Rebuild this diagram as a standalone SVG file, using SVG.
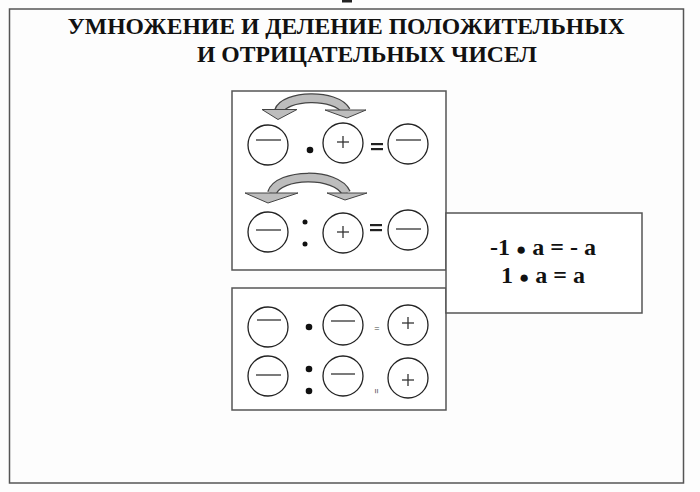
<svg xmlns="http://www.w3.org/2000/svg" width="700" height="492" viewBox="0 0 700 492">
<style>
.frame{fill:none;stroke:#555;stroke-width:1.5}
.box{fill:#fff;stroke:#555;stroke-width:1.5}
.c{fill:#fff;stroke:#222;stroke-width:1.3}
.sg{stroke:#333;stroke-width:1.3;fill:none}
.title{font-family:"Liberation Serif","DejaVu Serif",serif;font-weight:bold;font-size:24px;fill:#111}
.eq{font-family:"Liberation Serif","DejaVu Serif",serif;font-weight:bold;font-size:24px;fill:#111}
.dot{fill:#111}
.arO{fill:none;stroke:#444;stroke-width:10;stroke-linecap:butt}
.arI{fill:none;stroke:#bdbdbd;stroke-width:7.5;stroke-linecap:butt}
.head{fill:#bdbdbd;stroke:#444;stroke-width:1}
.tiny{font-family:"Liberation Sans",sans-serif;font-size:9px;fill:#444}
</style>
<rect width="700" height="492" fill="#fdfdfd"/>
<rect x="342" y="0" width="10" height="2.5" fill="#222"/>
<rect class="frame" x="9.5" y="9" width="674" height="474"/>
<g id="title">
<text class="title" x="346" y="34" text-anchor="middle" textLength="557" lengthAdjust="spacingAndGlyphs">УМНОЖЕНИЕ И ДЕЛЕНИЕ ПОЛОЖИТЕЛЬНЫХ</text>
<text class="title" x="367" y="62" text-anchor="middle" textLength="340" lengthAdjust="spacingAndGlyphs">И ОТРИЦАТЕЛЬНЫХ ЧИСЕЛ</text>
</g>
<g id="box1">
<rect class="box" x="232" y="91" width="214" height="179"/>
<circle class="c" cx="268" cy="145" r="20"/><line class="sg" x1="256" y1="140" x2="281" y2="140"/>
<circle class="dot" cx="310" cy="150" r="3.3"/>
<circle class="c" cx="343" cy="143" r="20"/><line class="sg" x1="337" y1="142" x2="349" y2="142"/><line class="sg" x1="343" y1="136" x2="343" y2="148"/>
<rect x="371" y="143" width="12" height="2.2" fill="#222"/><rect x="371" y="148" width="12" height="2.2" fill="#222"/>
<circle class="c" cx="408" cy="144" r="20"/><line class="sg" x1="396" y1="140" x2="421" y2="140"/>
<circle class="c" cx="268" cy="232" r="20"/><line class="sg" x1="256" y1="230" x2="281" y2="230"/>
<circle class="dot" cx="305" cy="222" r="2.5"/><circle class="dot" cx="305" cy="244" r="2.5"/>
<circle class="c" cx="343" cy="233" r="20"/><line class="sg" x1="337" y1="232" x2="349" y2="232"/><line class="sg" x1="343" y1="226" x2="343" y2="238"/>
<rect x="370" y="224" width="12" height="2.2" fill="#222"/><rect x="370" y="229" width="12" height="2.2" fill="#222"/>
<circle class="c" cx="408" cy="230" r="20"/><line class="sg" x1="396" y1="229" x2="421" y2="229"/>
</g>
<g id="arrow1">
<path class="arO" d="M 279 111 C 284 95, 336 93, 346 111"/>
<path class="arI" d="M 279 111 C 284 95, 336 93, 346 111"/>
<polygon class="head" points="262,109.5 297,109.5 278,119.5"/>
<polygon class="head" points="325,110 366,110 347,118"/>
</g>
<g id="arrow2">
<path class="arO" d="M 272 193 C 278 173, 337 172, 346 193"/>
<path class="arI" d="M 272 193 C 278 173, 337 172, 346 193"/>
<polygon class="head" points="245,193 298,193 268,203"/>
<polygon class="head" points="327,193 367,193 345,200"/>
</g>
<g id="box2">
<rect class="box" x="232" y="288" width="214" height="122"/>
<circle class="c" cx="268" cy="327" r="20"/><line class="sg" x1="257" y1="320" x2="281" y2="320"/>
<circle class="dot" cx="309" cy="327" r="3.3"/>
<circle class="c" cx="343" cy="325" r="20"/><line class="sg" x1="331" y1="321" x2="355" y2="321"/>
<text class="tiny" x="377" y="331" text-anchor="middle">=</text>
<circle class="c" cx="408" cy="325" r="20"/><line class="sg" x1="402" y1="323" x2="414" y2="323"/><line class="sg" x1="408" y1="317" x2="408" y2="329"/>
<circle class="c" cx="268" cy="376" r="20"/><line class="sg" x1="256" y1="375" x2="281" y2="375"/>
<circle class="dot" cx="309" cy="369" r="3.3"/><circle class="dot" cx="309" cy="391" r="3.3"/>
<circle class="c" cx="343" cy="376" r="20"/><line class="sg" x1="331" y1="374" x2="355" y2="374"/>
<text class="tiny" transform="translate(374,391) rotate(90)" text-anchor="middle">=</text>
<circle class="c" cx="408" cy="378" r="20"/><line class="sg" x1="402" y1="380" x2="414" y2="380"/><line class="sg" x1="408" y1="374" x2="408" y2="386"/>
</g>
<g id="rule">
<rect class="box" x="446" y="213" width="196" height="100"/>
<text class="eq" x="543" y="255" text-anchor="middle">-1 <tspan font-size="17">●</tspan> a = - a</text>
<text class="eq" x="543" y="283" text-anchor="middle">1 <tspan font-size="17">●</tspan> a = a</text>
</g>
</svg>
